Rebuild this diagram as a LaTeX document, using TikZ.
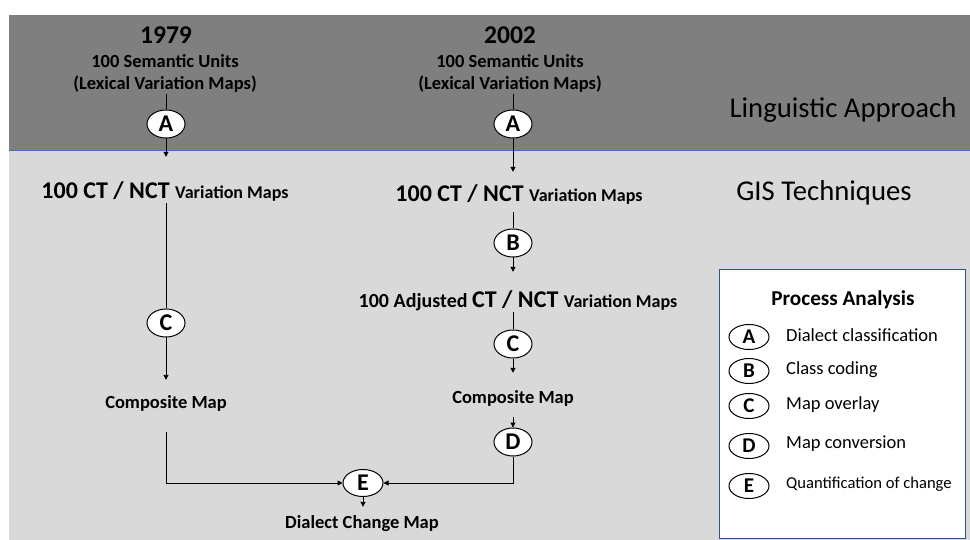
\documentclass[tikz,border=0pt]{standalone}
\usepackage{fontspec}
\setmainfont{Carlito}
\usetikzlibrary{arrows.meta,shapes.geometric,calc}
\definecolor{bandDark}{HTML}{7F7F7F}
\definecolor{bandLight}{HTML}{D9D9D9}
\definecolor{bandRule}{HTML}{4472C4}
\definecolor{legendEdge}{HTML}{2F528F}
\newcommand\fsz[1]{\fontsize{#1}{#1}\selectfont}

\begin{document}
\begin{tikzpicture}[x=1pt,y=-1pt,
  lbl/.style={inner sep=0pt, text height=14pt, text depth=4pt, font=\bfseries\fsz{18.5}},
  stage/.style={ellipse, draw=black, fill=white, line width=1pt, minimum width=38pt,
                minimum height=28pt, inner sep=0pt, font=\bfseries\fsz{24}},
  key/.style={stage, minimum width=40pt, minimum height=25pt, font=\bfseries\fsz{21}},
  keytext/.style={anchor=west, inner sep=0pt, text height=13pt, text depth=4pt, font=\fsz{18.5}},
  flow/.style={line width=0.9pt, draw=black},
  arr/.style={flow, -{Triangle[length=5pt,width=5pt]}},
]
\useasboundingbox (0,0) rectangle (970,540);

% background bands
\fill[bandDark] (9,15) rectangle (970,150);
\fill[bandLight] (9,150) rectangle (970,540);
\draw[bandRule, line width=0.8pt] (9,150) -- (970,150);

% band titles
\node[font=\fsz{28.7}, inner sep=0pt] (ling) at (843,110) {Linguistic Approach};
\node[font=\fsz{28.7}, inner sep=0pt] (gis) at (824,193) {GIS Techniques};

% 1979 column
\node[lbl, font=\bfseries\fsz{25.6}] (yr1) at (166,39) {1979};
\node[lbl] (su1) at (165,63) {100 Semantic Units};
\node[lbl] (lv1) at (165,85) {(Lexical Variation Maps)};
\node[stage] (A1) at (166,124) {A};
\node[lbl] (ct1) at (165,194) {\fsz{24}100 CT / NCT \fsz{18}Variation Maps};
\node[stage] (C1) at (166,323) {C};
\node[lbl] (cm1) at (166,403) {Composite Map};

% 2002 column
\node[lbl, font=\bfseries\fsz{25.6}] (yr2) at (510,39) {2002};
\node[lbl] (su2) at (510,63) {100 Semantic Units};
\node[lbl] (lv2) at (510,85) {(Lexical Variation Maps)};
\node[stage] (A2) at (513,124) {A};
\node[lbl] (ct2) at (519,197) {\fsz{24}100 CT / NCT \fsz{18}Variation Maps};
\node[stage] (B) at (513,243) {B};
\node[lbl] (adj) at (518,303) {\fsz{20}100 Adjusted \fsz{24}CT / NCT \fsz{18}Variation Maps};
\node[stage] (C2) at (513,344) {C};
\node[lbl] (cm2) at (513,398) {Composite Map};
\node[stage] (D) at (513,442) {D};

% merge
\node[stage, minimum width=40pt, minimum height=27pt] (E) at (363,483) {E};
\node[lbl] (dcm) at (362,523) {Dialect Change Map};

% connectors, 1979
\draw[flow] (A1 |- lv1.south) -- (A1);
\draw[arr, shorten >=28pt] (A1) -- (A1 |- ct1.north);
\draw[flow] (C1 |- ct1.south) -- (C1);
\draw[arr, shorten >=14pt] (C1) -- (C1 |- cm1.north);
\draw[arr, shorten <=20pt] (cm1.south) |- (E.west);

% connectors, 2002
\draw[flow] (A2 |- lv2.south) -- (A2);
\draw[arr, shorten >=16pt] (A2) -- (A2 |- ct2.north);
\draw[flow, shorten <=6pt] (B |- ct2.south) -- (B);
\draw[arr, shorten >=22pt] (B) -- (B |- adj.north);
\draw[flow] (C2 |- adj.south) -- (C2);
\draw[arr, shorten >=16pt] (C2) -- (C2 |- cm2.north);
\draw[arr, shorten <=10pt] (D |- cm2.south) -- (D);
\draw[arr] (D) |- (E.east);
\draw[arr, shorten >=7pt] (E) -- (E |- dcm.north);

% legend
\node[draw=legendEdge, fill=white, line width=1pt, minimum width=246pt,
      minimum height=268pt, inner sep=0pt] (legend) at (842,404) {};
\node[font=\bfseries\fsz{21.2}, inner sep=0pt] (keytitle) at (843,300) {Process Analysis};
\node[key] (kA) at (749,337) {A};
\node[keytext] (tA) at (786,337) {Dialect classification};
\node[key] (kB) at (749,371) {B};
\node[keytext] (tB) at (786,370) {Class coding};
\node[key] (kC) at (749,406) {C};
\node[keytext] (tC) at (786,405) {Map overlay};
\node[key] (kD) at (749,446) {D};
\node[keytext] (tD) at (786,444) {Map conversion};
\node[key] (kE) at (749,486) {E};
\node[keytext, font=\fsz{16.6}] (tE) at (786,484) {Quantification of change};
\end{tikzpicture}
\end{document}
